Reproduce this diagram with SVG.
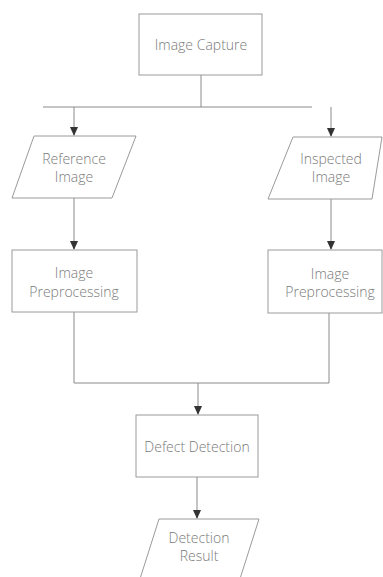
<svg xmlns="http://www.w3.org/2000/svg" width="383" height="577" viewBox="0 0 383 577">
<style>
.n{fill:#fff;stroke:#9a9a9a;stroke-width:1}
.t{font-family:"Open Sans","Liberation Sans",sans-serif;font-weight:300;font-size:14px;fill:#7a7a7a;text-anchor:middle}
.c{fill:none;stroke:#8a8a8a;stroke-width:1}
</style>
<defs>
<marker id="a" markerWidth="10" markerHeight="10" refX="8" refY="5" orient="auto" markerUnits="userSpaceOnUse">
<path d="M0,1 L9,5 L0,9 z" fill="#333"/>
</marker>
</defs>
<rect width="383" height="577" fill="#fff"/>
<g id="connectors">
<path class="c" d="M201,75 V107"/>
<path class="c" d="M43,107 H312"/>
<path class="c" d="M74,107 V135" marker-end="url(#a)"/>
<path class="c" d="M331,107 V136" marker-end="url(#a)"/>
<path class="c" d="M74,198 V249" marker-end="url(#a)"/>
<path class="c" d="M331,199 V249" marker-end="url(#a)"/>
<path class="c" d="M74,312 V383 H329 V313"/>
<path class="c" d="M198,383 V414" marker-end="url(#a)"/>
<path class="c" d="M197,477 V518" marker-end="url(#a)"/>
</g>
<g id="image-capture">
<rect class="n" x="139" y="14" width="123" height="61"/>
<text class="t" x="201" y="50">Image Capture</text>
</g>
<g id="reference-image">
<polygon class="n" points="34,136 136,136 112,198 12,198"/>
<text class="t" x="74" y="164">Reference</text>
<text class="t" x="74" y="182">Image</text>
</g>
<g id="inspected-image">
<polygon class="n" points="293,137 382,137 372,199 268,199"/>
<text class="t" x="331" y="164">Inspected</text>
<text class="t" x="331" y="182">Image</text>
</g>
<g id="preproc-left">
<rect class="n" x="12" y="250" width="125" height="62"/>
<text class="t" x="74" y="278">Image</text>
<text class="t" x="74" y="297">Preprocessing</text>
</g>
<g id="preproc-right">
<rect class="n" x="268" y="250" width="114" height="63"/>
<text class="t" x="330" y="279">Image</text>
<text class="t" x="330" y="297">Preprocessing</text>
</g>
<g id="defect-detection">
<rect class="n" x="136" y="415" width="122" height="62"/>
<text class="t" x="197" y="452">Defect Detection</text>
</g>
<g id="detection-result">
<polygon class="n" points="159,519 259,519 239,582 139,582"/>
<text class="t" x="199" y="543">Detection</text>
<text class="t" x="199" y="561">Result</text>
</g>
</svg>
